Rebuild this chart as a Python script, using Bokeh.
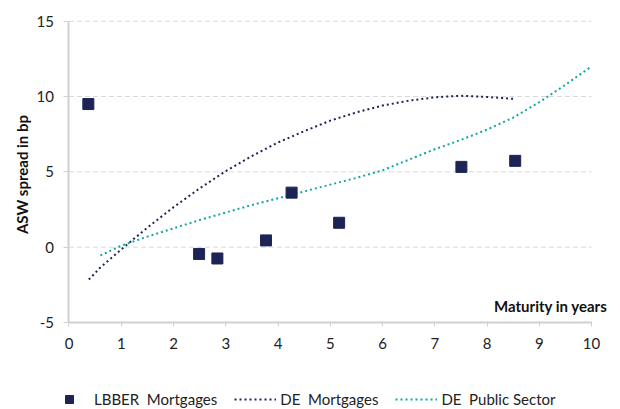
import math
from bokeh.plotting import figure
from bokeh.models import Range1d, Legend, LegendItem, Label, FixedTicker
from bokeh.embed import file_html
from bokeh.resources import INLINE

# LBBER Mortgages (points)
lbber_x = [0.37, 2.49, 2.84, 3.77, 4.26, 5.17, 7.51, 8.54]
lbber_y = [9.5, -0.45, -0.75, 0.45, 3.62, 1.62, 5.33, 5.73]

# DE Mortgages (dotted curve)
demort_x = [0.38, 0.6, 1.0, 1.5, 2.0, 2.5, 3.0, 3.5, 4.0, 4.5, 5.0, 5.5, 6.0, 6.5, 7.0, 7.5, 8.0, 8.5]
demort_y = [-2.15, -1.35, -0.15, 1.3, 2.65, 3.9, 5.05, 6.05, 6.95, 7.7, 8.4, 8.95, 9.4, 9.72, 9.95, 10.05, 9.97, 9.85]

# DE Public Sector (dotted curve)
depub_x = [0.6, 1.0, 1.5, 2.0, 2.5, 3.0, 3.5, 4.0, 4.5, 5.0, 5.5, 6.0, 6.5, 7.0, 7.5, 8.0, 8.5, 9.0, 9.5, 10.0]
depub_y = [-0.55, 0.1, 0.7, 1.25, 1.8, 2.3, 2.8, 3.25, 3.7, 4.15, 4.6, 5.1, 5.8, 6.5, 7.12, 7.8, 8.6, 9.62, 10.78, 12.0]

x_ticks = [0, 1, 2, 3, 4, 5, 6, 7, 8, 9, 10]
y_ticks = [-5, 0, 5, 10, 15]
y_tick_labels = ["-5", "0", "5", "10", "15"]

NAVY = "#1c2456"
TEAL = "#12a5a5"
FONT = "Lato"

# frame spans the whole figure; ranges padded so the 0..10 / -5..15 box sits where the reference has it
p = figure(width=620, height=409, output_backend="svg", toolbar_location=None,
           x_range=Range1d(-1.311, 10.555), y_range=Range1d(-10.775, 16.374),
           min_border_left=0, min_border_right=0, min_border_top=0, min_border_bottom=0)
p.outline_line_color = None

# dashed horizontal gridlines spanning the 0..10 maturity range
grid_y = y_ticks[1:]
p.segment(x0=[x_ticks[0]] * len(grid_y), x1=[x_ticks[-1]] * len(grid_y), y0=grid_y, y1=grid_y,
          line_color="#d9d9d9", line_width=1, line_dash="5 3")

r_mort = p.line(demort_x, demort_y, line_color=NAVY, line_width=2, line_dash="2 3")
r_pub = p.line(depub_x, depub_y, line_color=TEAL, line_width=2, line_dash="2 3")
r_pts = p.scatter(lbber_x, lbber_y, marker="square", size=11, fill_color=NAVY, line_color=NAVY)

p.xgrid.grid_line_color = None
p.ygrid.grid_line_color = None

p.xaxis.ticker = FixedTicker(ticks=x_ticks)
p.yaxis.ticker = FixedTicker(ticks=y_ticks)
p.yaxis.major_label_overrides = {t: s for t, s in zip(y_ticks, y_tick_labels)}
p.xaxis.bounds = (x_ticks[0], x_ticks[-1])
p.yaxis.bounds = (y_ticks[0], y_ticks[-1])
p.xaxis.fixed_location = y_ticks[0]
p.yaxis.fixed_location = x_ticks[0]
p.xaxis.minor_tick_line_color = None
p.yaxis.minor_tick_line_color = None

for ax in (p.xaxis, p.yaxis):
    ax.axis_line_color = "#d0d0d0"
    ax.axis_line_width = 2
    ax.major_tick_line_color = "#d0d0d0"
    ax.major_label_text_font = FONT
    ax.major_label_text_font_size = "15px"
    ax.major_label_text_color = "#222222"

p.xaxis.major_tick_in = 1
p.xaxis.major_tick_out = 4
p.xaxis.major_label_standoff = 12
p.yaxis.major_tick_in = 0
p.yaxis.major_tick_out = 5
p.yaxis.major_label_standoff = 10

yt = Label(x=21, y=235, x_units="screen", y_units="screen", angle=math.pi / 2,
           text="ASW spread in bp", text_align="center", text_baseline="middle",
           text_font=FONT, text_font_style="bold", text_font_size="15px",
           text_color="#111111")
p.add_layout(yt)

xt = Label(x=x_ticks[-1], y=y_ticks[0], x_offset=16, y_offset=7, text="Maturity in years",
           text_align="right", text_baseline="bottom",
           text_font=FONT, text_font_style="bold", text_font_size="15px",
           text_color="#111111")
p.add_layout(xt)

legend = Legend(items=[
    LegendItem(label="LBBER  Mortgages", renderers=[r_pts]),
    LegendItem(label="DE  Mortgages", renderers=[r_mort]),
    LegendItem(label="DE  Public Sector", renderers=[r_pub]),
], orientation="horizontal", location=(48, 0))
legend.label_text_font = FONT
legend.label_text_font_size = "15px"
legend.label_text_color = "#222222"
legend.border_line_color = None
legend.background_fill_alpha = 0
legend.glyph_width = 42
legend.glyph_height = 20
legend.padding = 0
legend.margin = 0
legend.spacing = 17
legend.label_standoff = 4
p.add_layout(legend, "center")

open("out.html", "w").write(file_html(p, INLINE))
